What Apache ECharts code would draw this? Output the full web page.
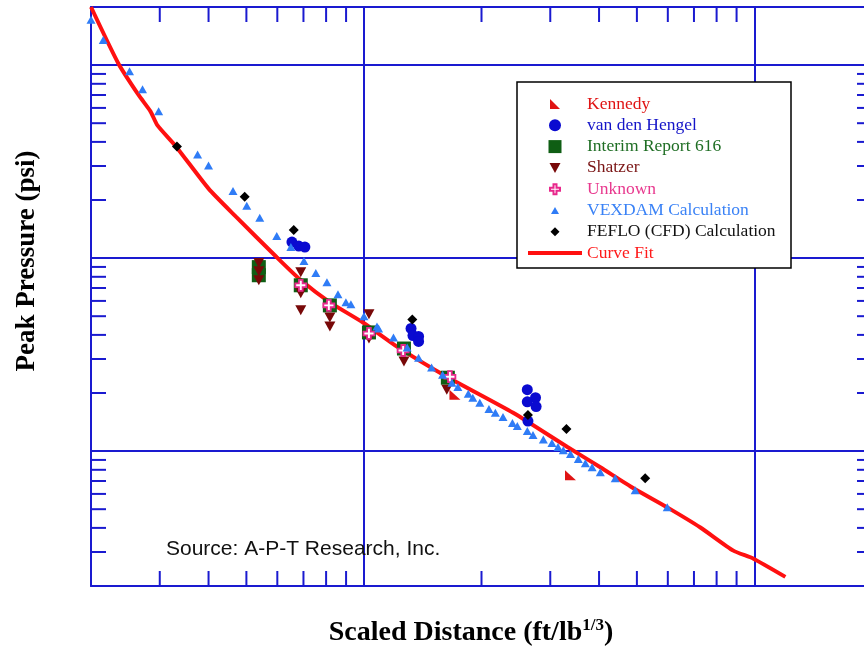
<!DOCTYPE html>
<html>
<head>
<meta charset="utf-8">
<script src="https://cdn.jsdelivr.net/npm/echarts@6/dist/echarts.min.js"></script>
<style>
  html, body { margin: 0; padding: 0; background: #ffffff; overflow: hidden; }
  #chart { width: 880px; height: 649px; }
</style>
</head>
<body>
<div id="chart"></div>
<script>
// ---- Data (Scaled Distance ft/lb^1/3, Peak Pressure psi) ----
const kennedyData = [[17.1, 1.96], [33.8, 0.75]];
const hengelData = [
  [6.54, 12.1], [6.81, 11.55], [7.06, 11.4],
  [13.2, 4.32], [13.35, 3.97], [13.8, 3.93], [13.8, 3.70],
  [26.2, 2.08], [27.5, 1.89], [26.2, 1.80], [27.6, 1.70], [26.3, 1.43]
];
const interimData = [
  [5.38, 8.98], [5.38, 8.15], [6.89, 7.23], [8.18, 5.69],
  [10.3, 4.12], [12.66, 3.40], [16.4, 2.40]
];
const shatzerData = [
  [5.38, 9.42], [5.38, 8.56], [5.38, 7.68],
  [6.89, 8.45], [6.89, 6.57], [6.89, 5.36],
  [8.18, 4.93], [8.18, 4.42],
  [10.3, 5.11], [10.3, 3.83],
  [12.66, 2.91], [16.3, 2.08]
];
const unknownData = [[6.89, 7.23], [8.13, 5.69], [10.3, 4.07], [12.6, 3.32], [16.6, 2.43]];
const vexdamData = [
  [2.0, 172], [2.15, 135], [2.51, 93], [2.71, 75], [2.98, 57.6], [3.75, 34.4], [4.0, 30.2],
  [4.62, 22.3], [5.01, 18.7], [5.41, 16.2], [5.98, 13.0], [6.5, 11.4], [7.02, 9.65],
  [7.53, 8.36], [8.04, 7.5], [8.58, 6.49], [8.99, 5.9], [9.26, 5.76], [10.0, 4.99],
  [10.8, 4.42], [10.9, 4.32], [11.9, 3.88], [12.9, 3.44], [13.8, 3.05], [14.9, 2.71],
  [15.9, 2.49], [16.8, 2.26], [17.4, 2.15], [18.5, 1.98], [19.0, 1.89], [19.8, 1.78],
  [20.9, 1.65], [21.7, 1.58], [22.7, 1.50], [24.0, 1.40], [24.7, 1.35], [26.2, 1.27],
  [27.1, 1.21], [28.8, 1.15], [30.3, 1.10], [31.4, 1.05], [32.4, 1.01], [33.8, 0.965],
  [35.4, 0.909], [36.9, 0.866], [38.4, 0.825], [40.3, 0.777], [44.0, 0.723],
  [49.5, 0.626], [59.8, 0.511]
];
const fefloData = [[3.32, 37.9], [4.95, 20.8], [6.61, 14.0], [13.3, 4.81], [26.3, 1.54], [33.0, 1.30], [52.5, 0.723]];
const curveFitData = [
  [2.0, 200], [2.35, 102], [2.65, 69.8], [2.84, 57.6], [2.96, 48.7], [3.30, 37.9],
  [4.0, 22.9], [4.7, 16.4], [5.98, 10.1], [6.85, 7.77], [8.18, 5.9], [9.94, 4.64],
  [12.15, 3.48], [16.3, 2.43], [24.1, 1.58], [33.2, 1.05], [40.3, 0.825], [49.0, 0.642],
  [59.8, 0.511], [72.7, 0.402], [88.3, 0.305], [99.4, 0.277], [120, 0.223]
];
const xMinorTicks = [3, 4, 5, 6, 7, 8, 9, 20, 30, 40, 50, 60, 70, 80, 90];
const yMinorTicks = [0.3, 0.4, 0.5, 0.6, 0.7, 0.8, 0.9, 2, 3, 4, 5, 6, 7, 8, 9, 20, 30, 40, 50, 60, 70, 80, 90];
const xRange = [2, 200];
const yRange = [0.2, 200];
const seriesNames = ['Kennedy', 'van den Hengel', 'Interim Report 616', 'Shatzer', 'Unknown',
  'VEXDAM Calculation', 'FEFLO (CFD) Calculation', 'Curve Fit'];

// ---- Styles ----
const AX = '#1a1ad0';
const SERIF = '"Liberation Serif", "Times New Roman", serif';
const SANS = '"Liberation Sans", Arial, sans-serif';
const colors = {
  kennedy: '#e01414', hengel: '#0a0ad0', interim: '#0f5e14', shatzer: '#780808',
  unknown: '#e8288c', vexdam: '#2f7cf6', feflo: '#000000', curve: '#ff1010'
};
const textColors = ['#e01414', '#1414c8', '#1f6e24', '#7a1414', '#e8388e', '#3a82f6', '#111111', '#ff1a1a'];
const kennedyPath = 'path://M0,0L10,10L0,10Z';
const crossPath = 'path://M3.3,0L6.7,0L6.7,3.3L10,3.3L10,6.7L6.7,6.7L6.7,10L3.3,10L3.3,6.7L0,6.7L0,3.3L3.3,3.3Z';
// legend icons (14x14 box, padded by zero-length segments so sizes stay as drawn)
const PAD = 'M0,0L0,0M14,14L14,14';
const legendIcons = [
  'path://' + PAD + 'M2,2L12,12L2,12Z',
  'path://' + PAD + 'M13,7A6,6,0,1,1,1,7A6,6,0,1,1,13,7Z',
  'path://' + PAD + 'M0.5,0.5L13.5,0.5L13.5,13.5L0.5,13.5Z',
  'path://' + PAD + 'M1.5,2L12.5,2L7,12Z',
  'path://' + PAD + 'M5.5,2L8.5,2L8.5,5.5L12,5.5L12,8.5L8.5,8.5L8.5,12L5.5,12L5.5,8.5L2,8.5L2,5.5L5.5,5.5Z',
  'path://' + PAD + 'M3,10.5L7,3.5L11,10.5Z',
  'path://' + PAD + 'M7,2.5L11.5,7L7,11.5L2.5,7Z',
  'path://M0,5L54,5L54,9L0,9Z'
];

const chart = echarts.init(document.getElementById('chart'), null, { renderer: 'canvas' });

function xTickItem(params, api) {
  const cs = params.coordSys;
  const p = api.coord([api.value(0), 1]);
  const st = { stroke: AX, lineWidth: 2 };
  return { type: 'group', children: [
    { type: 'line', shape: { x1: p[0], y1: cs.y + cs.height, x2: p[0], y2: cs.y + cs.height - 15 }, style: st },
    { type: 'line', shape: { x1: p[0], y1: cs.y, x2: p[0], y2: cs.y + 15 }, style: st }
  ] };
}
function yTickItem(params, api) {
  const cs = params.coordSys;
  const p = api.coord([10, api.value(1)]);
  const st = { stroke: AX, lineWidth: 2 };
  return { type: 'group', children: [
    { type: 'line', shape: { x1: cs.x, y1: p[1], x2: cs.x + 15, y2: p[1] }, style: st },
    { type: 'line', shape: { x1: cs.x + cs.width, y1: p[1], x2: cs.x + cs.width - 15, y2: p[1] }, style: st }
  ] };
}

const option = {
  backgroundColor: '#ffffff',
  animation: false,
  grid: { left: 91, top: 7, width: 781, height: 579, containLabel: false },
  xAxis: [
    {
      type: 'log', logBase: 10, min: xRange[0], max: xRange[1], position: 'bottom',
      axisLine: { show: true, lineStyle: { color: AX, width: 2 } },
      axisTick: { show: false }, axisLabel: { show: false },
      splitLine: { show: true, lineStyle: { color: AX, width: 2 } },
      minorTick: { show: false }, minorSplitLine: { show: false }
    },
    {
      type: 'log', logBase: 10, min: xRange[0], max: xRange[1], position: 'top',
      axisLine: { show: true, lineStyle: { color: AX, width: 2 } },
      axisTick: { show: false }, axisLabel: { show: false }, splitLine: { show: false }
    }
  ],
  yAxis: [
    {
      type: 'log', logBase: 10, min: yRange[0], max: yRange[1], position: 'left',
      axisLine: { show: true, lineStyle: { color: AX, width: 2 } },
      axisTick: { show: false }, axisLabel: { show: false },
      splitLine: { show: true, lineStyle: { color: AX, width: 2 } }
    },
    {
      type: 'log', logBase: 10, min: yRange[0], max: yRange[1], position: 'right',
      axisLine: { show: true, lineStyle: { color: AX, width: 2 } },
      axisTick: { show: false }, axisLabel: { show: false }, splitLine: { show: false }
    }
  ],
  legend: {
    orient: 'vertical', left: 528, top: 95, padding: 0,
    itemWidth: 54, itemHeight: 14, itemGap: 3.3, symbolKeepAspect: true,
    textStyle: { fontFamily: SERIF, fontSize: 17.5, padding: [0, 0, 0, 0] },
    selectedMode: false,
    data: seriesNames.map((n, i) => ({ name: n, icon: legendIcons[i], textStyle: { color: textColors[i] } }))
  },
  graphic: [
    { type: 'rect', z: 3, shape: { x: 517, y: 82, width: 274, height: 186 },
      style: { fill: '#ffffff', stroke: '#000000', lineWidth: 1.5 } },
    { type: 'text', z: 5, style: { x: 166, y: 549, text: 'Source: A-P-T Research, Inc.',
      font: '21px ' + SANS, fill: '#111111', verticalAlign: 'middle', align: 'left' } },
    { type: 'text', z: 5, x: 27, y: 261, rotation: Math.PI / 2,
      style: { x: 0, y: 0, text: 'Peak Pressure (psi)',
      font: 'bold 27px ' + SERIF, fill: '#000000', align: 'center', verticalAlign: 'middle' } },
    { type: 'text', z: 5, x: 471, y: 632, style: {
      text: '{a|Scaled Distance (ft/lb}{s|1/3}{a|)}', align: 'center', verticalAlign: 'middle',
      rich: {
        a: { font: 'bold 28px ' + SERIF, fill: '#000', lineHeight: 30, verticalAlign: 'bottom' },
        s: { font: 'bold 17px ' + SERIF, fill: '#000', lineHeight: 17, verticalAlign: 'top' }
      } } }
  ],
  series: [
    { name: 'xticks', type: 'custom', silent: true, z: 1, xAxisIndex: 0, yAxisIndex: 0,
      renderItem: xTickItem, data: xMinorTicks.map(v => [v, 1]) },
    { name: 'yticks', type: 'custom', silent: true, z: 1, xAxisIndex: 0, yAxisIndex: 0,
      renderItem: yTickItem, data: yMinorTicks.map(v => [10, v]) },
    { name: 'Curve Fit', type: 'line', z: 2, data: curveFitData, showSymbol: false, symbol: 'none',
      smooth: 0.2, lineStyle: { color: colors.curve, width: 4 }, itemStyle: { color: colors.curve } },
    { name: 'Interim Report 616', type: 'scatter', z: 3, data: interimData, symbol: 'rect', symbolSize: 14,
      itemStyle: { color: colors.interim, opacity: 1 } },
    { name: 'Shatzer', type: 'scatter', z: 4, data: shatzerData, symbol: 'triangle', symbolRotate: 180,
      symbolSize: [11, 10], itemStyle: { color: colors.shatzer, opacity: 1 } },
    { name: 'Unknown', type: 'scatter', z: 5, data: unknownData, symbol: crossPath, symbolSize: 11,
      itemStyle: { color: '#ffffff', borderColor: colors.unknown, borderWidth: 1.8, opacity: 1 } },
    { name: 'van den Hengel', type: 'scatter', z: 5, data: hengelData, symbol: 'circle', symbolSize: 11,
      itemStyle: { color: colors.hengel, opacity: 1 } },
    { name: 'Kennedy', type: 'scatter', z: 6, data: kennedyData, symbol: kennedyPath, symbolSize: [11, 10],
      itemStyle: { color: colors.kennedy, opacity: 1 } },
    { name: 'VEXDAM Calculation', type: 'scatter', z: 6, data: vexdamData, symbol: 'triangle', symbolSize: [9, 8],
      itemStyle: { color: colors.vexdam, opacity: 1 } },
    { name: 'FEFLO (CFD) Calculation', type: 'scatter', z: 7, data: fefloData, symbol: 'diamond', symbolSize: 10,
      itemStyle: { color: colors.feflo, opacity: 1 } }
  ]
};
chart.setOption(option);
</script>
</body>
</html>
